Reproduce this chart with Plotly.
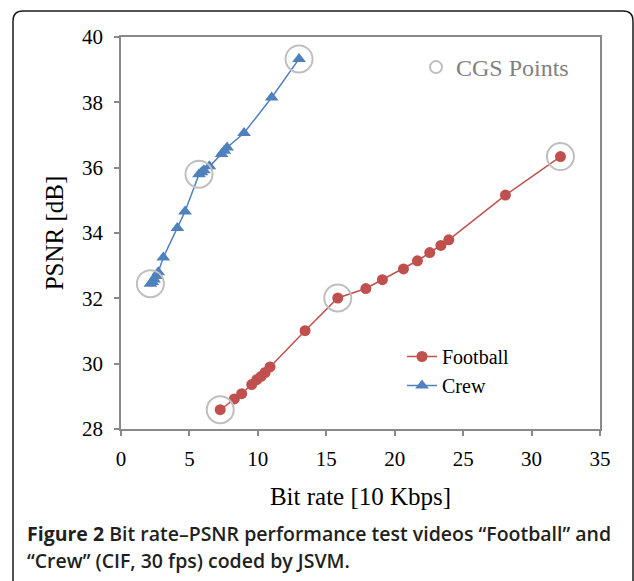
import plotly.graph_objects as go

# Rate-distortion points (bit rate in units of 10 Kbps, PSNR in dB)
football_rate = [7.25, 8.28, 8.82, 9.55, 9.92, 10.23, 10.53, 10.89, 13.45, 15.84,
                 17.89, 19.10, 20.64, 21.66, 22.56, 23.37, 23.95, 28.09, 32.11]
football_psnr = [28.59, 28.92, 29.08, 29.36, 29.51, 29.61, 29.73, 29.90, 31.01, 32.01,
                 32.30, 32.57, 32.90, 33.15, 33.40, 33.62, 33.79, 35.16, 36.34]

crew_rate = [2.15, 2.28, 2.42, 2.56, 2.72, 3.09, 4.12, 4.68, 5.70, 5.88, 6.05, 6.46,
             7.35, 7.55, 7.75, 8.99, 11.01, 13.01]
crew_psnr = [32.45, 32.50, 32.58, 32.68, 32.80, 33.25, 34.15, 34.66, 35.80, 35.86,
             35.92, 36.04, 36.42, 36.52, 36.62, 37.06, 38.15, 39.33]

# CGS operating points (subset of the two curves)
cgs_rate = [2.15, 5.70, 13.01, 7.25, 15.84, 32.11]
cgs_psnr = [32.45, 35.80, 39.33, 28.59, 32.01, 36.34]

x_ticks = [0, 5, 10, 15, 20, 25, 30, 35]
y_ticks = [28, 30, 32, 34, 36, 38, 40]

W, H = 634, 581
L, R, T, B = 121, 34, 37, 152
PW, PH = W - L - R, H - T - B

def px(x):
    return (x - L) / PW

def py(y):
    return (H - B - y) / PH

SERIF = "Liberation Serif"
AXIS_GRAY = "#898989"

fig = go.Figure()

fig.add_trace(go.Scatter(
    x=football_rate, y=football_psnr, name="Football", mode="lines+markers",
    line=dict(color="#C0504D", width=1.5),
    marker=dict(symbol="circle", size=11, color="#C0504D"),
    legend="legend",
))
fig.add_trace(go.Scatter(
    x=crew_rate, y=crew_psnr, name="Crew", mode="lines+markers",
    line=dict(color="#4F81BD", width=1.5),
    marker=dict(symbol="triangle-up", size=12, color="#4F81BD"),
    legend="legend",
))
fig.add_trace(go.Scatter(
    x=cgs_rate, y=cgs_psnr, name="CGS Points", mode="markers",
    marker=dict(symbol="circle-open", size=27, color="#BFBFBF",
                line=dict(color="#BFBFBF", width=2)),
    legend="legend2",
))

axis_common = dict(
    showline=True, mirror=True, linecolor=AXIS_GRAY, linewidth=1.5,
    ticks="outside", ticklen=5, tickwidth=1.5, tickcolor=AXIS_GRAY,
    showgrid=False, zeroline=False,
    tickfont=dict(family=SERIF, size=21, color="#000000"),
)

fig.update_xaxes(
    range=[0, 35], tickvals=x_ticks, **axis_common, ticklabelstandoff=5,
    title=dict(text="Bit rate [10 Kbps]", standoff=18,
               font=dict(family=SERIF, size=25, color="#000000")),
)
fig.update_yaxes(
    range=[28, 40], tickvals=y_ticks, **axis_common, ticklabelstandoff=7,
    title=dict(text="PSNR [dB]", standoff=11,
               font=dict(family=SERIF, size=25, color="#000000")),
)

# Rounded outer frame, open at the bottom
r = 10
x0, x1, y0 = 13, 633, 11
frame = (f"M {px(x0)},{py(H + 5)} L {px(x0)},{py(y0 + r)} "
         f"Q {px(x0)},{py(y0)} {px(x0 + r)},{py(y0)} "
         f"L {px(x1 - r)},{py(y0)} Q {px(x1)},{py(y0)} {px(x1)},{py(y0 + r)} "
         f"L {px(x1)},{py(H + 5)}")
fig.add_shape(type="path", xref="paper", yref="paper", path=frame,
              line=dict(color="#1a1a1a", width=1.5))

# Figure caption
cap_font = dict(family="Open Sans", size=19.5, color="#231f20", weight=600)
fig.add_annotation(
    xref="paper", yref="paper", x=px(25), y=py(533), xanchor="left", yanchor="middle",
    text="<b>Figure 2</b> Bit rate\u2013PSNR performance test videos \u201cFootball\u201d and",
    showarrow=False, font=cap_font, align="left",
)
fig.add_annotation(
    xref="paper", yref="paper", x=px(25), y=py(560), xanchor="left", yanchor="middle",
    text="\u201cCrew\u201d (CIF, 30 fps) coded by JSVM.",
    showarrow=False, font=cap_font, align="left",
)

fig.update_layout(
    width=W, height=H,
    margin=dict(l=L, r=R, t=T, b=B, autoexpand=False),
    paper_bgcolor="white", plot_bgcolor="white",
    legend=dict(x=px(402), y=py(337), xanchor="left", yanchor="top",
                font=dict(family=SERIF, size=20, color="#000000"),
                bgcolor="rgba(0,0,0,0)", tracegroupgap=0),
    legend2=dict(x=px(416), y=py(45), xanchor="left", yanchor="top",
                 font=dict(family=SERIF, size=24, color="#808080"),
                 bgcolor="rgba(0,0,0,0)", itemsizing="constant"),
)

fig.write_html("out.html")
